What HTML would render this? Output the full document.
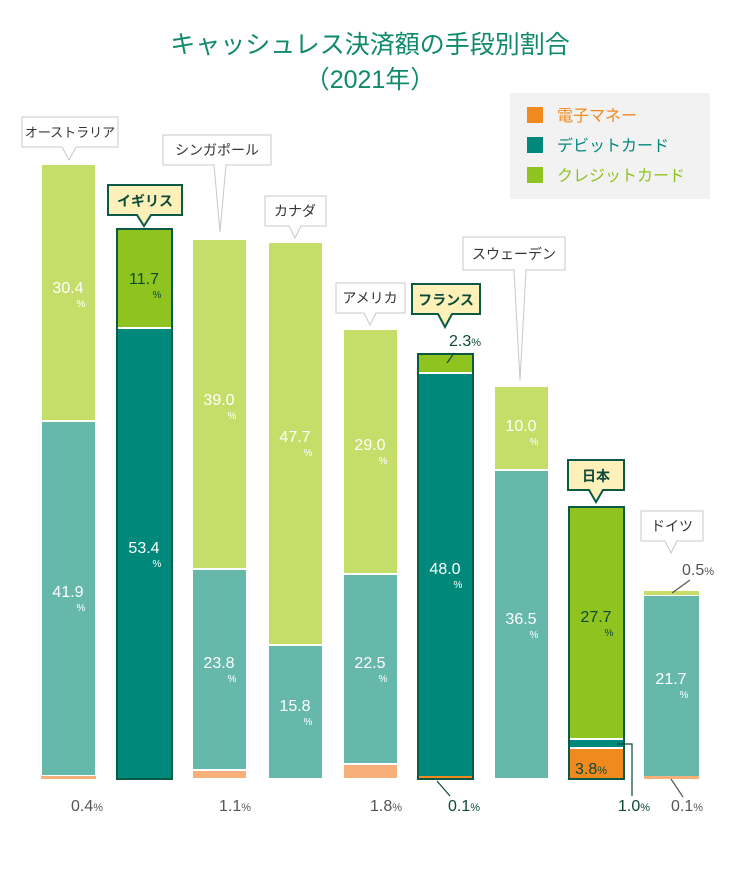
<!DOCTYPE html>
<html><head><meta charset="utf-8"><style>
html,body{margin:0;padding:0;background:#fff}
svg{display:block;font-family:"Liberation Sans","Noto Sans CJK JP",sans-serif}
</style></head><body>
<svg width="740" height="871" viewBox="0 0 740 871" xmlns="http://www.w3.org/2000/svg">
<text x="370" y="53" text-anchor="middle" font-size="25" fill="#0f8a6c">キャッシュレス決済額の手段別割合</text>
<text x="370" y="88" text-anchor="middle" font-size="25" fill="#0f8a6c">（2021年）</text>

<rect x="510" y="93" width="200" height="106" fill="#f2f2f2"/>
<rect x="527" y="107" width="16" height="16" fill="#f08a1e"/>
<text x="557" y="121" font-size="16" fill="#f08a1e">電子マネー</text>
<rect x="527" y="137" width="16" height="16" fill="#00897b"/>
<text x="557" y="151" font-size="16" fill="#00897b">デビットカード</text>
<rect x="527" y="167" width="16" height="16" fill="#8fc31f"/>
<text x="557" y="181" font-size="16" fill="#8fc31f">クレジットカード</text>

<g stroke="#fff" stroke-width="2">
<rect x="41" y="164" width="55" height="257" fill="#c5de6a"/>
<rect x="41" y="421" width="55" height="355" fill="#66b8ab"/>
<rect x="41" y="776" width="55" height="3" fill="#f7b07a" stroke="none"/>
<rect x="192" y="239" width="55" height="330" fill="#c5de6a"/>
<rect x="192" y="569" width="55" height="201" fill="#66b8ab"/>
<rect x="192" y="770" width="55" height="9" fill="#f7b07a"/>
<rect x="268" y="242" width="55" height="403" fill="#c5de6a"/>
<rect x="268" y="645" width="55" height="134" fill="#66b8ab"/>
<rect x="343" y="329" width="55" height="245" fill="#c5de6a"/>
<rect x="343" y="574" width="55" height="190" fill="#66b8ab"/>
<rect x="343" y="764" width="55" height="15" fill="#f7b07a"/>
<rect x="494" y="386" width="55" height="84" fill="#c5de6a"/>
<rect x="494" y="470" width="55" height="309" fill="#66b8ab"/>
<rect x="644" y="591" width="55" height="4" fill="#c5de6a" stroke="none"/>
<rect x="644" y="596" width="55" height="180" fill="#66b8ab" stroke="none"/>
<rect x="644" y="776" width="55" height="3" fill="#f7b07a" stroke="none"/>
</g>
<rect x="117" y="229" width="55" height="99" fill="#8fc31f"/>
<rect x="117" y="328" width="55" height="451" fill="#00897b"/>
<line x1="117" y1="328" x2="172" y2="328" stroke="#fff" stroke-width="2"/>
<rect x="117" y="229" width="55" height="550" fill="none" stroke="#0a5a45" stroke-width="2"/>
<rect x="418" y="354" width="55" height="19" fill="#8fc31f"/>
<rect x="418" y="373" width="55" height="403" fill="#00897b"/>
<rect x="418" y="776" width="55" height="3" fill="#f08a1e"/>
<line x1="418" y1="373" x2="473" y2="373" stroke="#fff" stroke-width="2"/>
<rect x="418" y="354" width="55" height="425" fill="none" stroke="#0a5a45" stroke-width="2"/>
<rect x="569" y="507" width="55" height="232" fill="#8fc31f"/>
<rect x="569" y="740" width="55" height="7" fill="#00897b"/>
<rect x="569" y="749" width="55" height="30" fill="#f08a1e"/>
<line x1="569" y1="739" x2="624" y2="739" stroke="#fff" stroke-width="2"/>
<line x1="569" y1="748" x2="624" y2="748" stroke="#fff" stroke-width="2"/>
<rect x="569" y="507" width="55" height="272" fill="none" stroke="#0a5a45" stroke-width="2"/>

<g font-size="16" fill="#fff" text-anchor="middle">
<text x="68" y="293">30.4</text><text x="81" y="307" font-size="10">%</text>
<text x="68" y="597">41.9</text><text x="81" y="611" font-size="10">%</text>
<text x="219" y="405">39.0</text><text x="232" y="419" font-size="10">%</text>
<text x="219" y="668">23.8</text><text x="232" y="682" font-size="10">%</text>
<text x="295" y="442">47.7</text><text x="308" y="456" font-size="10">%</text>
<text x="295" y="711">15.8</text><text x="308" y="725" font-size="10">%</text>
<text x="370" y="450">29.0</text><text x="383" y="464" font-size="10">%</text>
<text x="370" y="668">22.5</text><text x="383" y="682" font-size="10">%</text>
<text x="521" y="431">10.0</text><text x="534" y="445" font-size="10">%</text>
<text x="521" y="624">36.5</text><text x="534" y="638" font-size="10">%</text>
<text x="671" y="684">21.7</text><text x="684" y="698" font-size="10">%</text>
<text x="144" y="553">53.4</text><text x="157" y="567" font-size="10">%</text>
<text x="445" y="574">48.0</text><text x="458" y="588" font-size="10">%</text>
</g>
<g font-size="16" fill="#0a4a3a" text-anchor="middle">
<text x="144" y="284">11.7</text><text x="157" y="298" font-size="10">%</text>
<text x="596" y="622">27.7</text><text x="609" y="636" font-size="10">%</text>
<text x="591" y="774">3.8<tspan font-size="11">%</tspan></text>
</g>

<g font-size="16">
<text x="71" y="811" fill="#555">0.4<tspan font-size="11">%</tspan></text>
<text x="219" y="811" fill="#555">1.1<tspan font-size="11">%</tspan></text>
<text x="370" y="811" fill="#555">1.8<tspan font-size="11">%</tspan></text>
<line x1="437" y1="781" x2="450" y2="796" stroke="#0a4a3a" stroke-width="1.2"/>
<text x="448" y="811" fill="#0a4a3a">0.1<tspan font-size="11">%</tspan></text>
<polyline points="617,744 632,744 632,796" fill="none" stroke="#0a4a3a" stroke-width="1.2"/>
<text x="618" y="811" fill="#0a4a3a">1.0<tspan font-size="11">%</tspan></text>
<line x1="671" y1="779" x2="683" y2="797" stroke="#555" stroke-width="1.2"/>
<text x="671" y="811" fill="#555">0.1<tspan font-size="11">%</tspan></text>
<line x1="447" y1="363" x2="454" y2="353" stroke="#0a4a3a" stroke-width="1.2"/>
<text x="449" y="346" fill="#0a4a3a">2.3<tspan font-size="11">%</tspan></text>
<line x1="672" y1="593" x2="690" y2="580" stroke="#555" stroke-width="1.2"/>
<text x="682" y="575" fill="#555">0.5<tspan font-size="11">%</tspan></text>
</g>

<g font-size="14" text-anchor="middle" stroke-width="1">
<path d="M22,117 H118 V147 H76 L69,160 L62,147 H22 Z" fill="#fff" stroke="#c8c8c8"/>
<text x="70" y="137" fill="#333" font-size="13">オーストラリア</text>
<path d="M163,135 H271 V165 H226 L220,232 L214,165 H163 Z" fill="#fff" stroke="#c8c8c8"/>
<text x="217" y="155" fill="#333">シンガポール</text>
<path d="M265,196 H326 V226 H301 L295,238 L289,226 H265 Z" fill="#fff" stroke="#c8c8c8"/>
<text x="295" y="216" fill="#333">カナダ</text>
<path d="M336,283 H405 V313 H376 L370,325 L364,313 H336 Z" fill="#fff" stroke="#c8c8c8"/>
<text x="370" y="303" fill="#333">アメリカ</text>
<path d="M463,237 H565 V270 H526 L520,380 L514,270 H463 Z" fill="#fff" stroke="#c8c8c8"/>
<text x="514" y="259" fill="#333">スウェーデン</text>
<path d="M641,511 H703 V541 H677 L671,553 L665,541 H641 Z" fill="#fff" stroke="#c8c8c8"/>
<text x="672" y="531" fill="#333">ドイツ</text>
<g stroke-width="2">
<path d="M108,185 H182 V215 H151 L144,226 L137,215 H108 Z" fill="#fdf0b8" stroke="#0a5a45"/>
<text x="145" y="206" fill="#0a4a3a" font-weight="bold" stroke="none">イギリス</text>
<path d="M412,284 H480 V314 H452 L445,327 L438,314 H412 Z" fill="#fdf0b8" stroke="#0a5a45"/>
<text x="446" y="305" fill="#0a4a3a" font-weight="bold" stroke="none">フランス</text>
<path d="M568,460 H624 V490 H603 L596,502 L589,490 H568 Z" fill="#fdf0b8" stroke="#0a5a45"/>
<text x="596" y="481" fill="#0a4a3a" font-weight="bold" stroke="none">日本</text>
</g>
</g>
</svg>
</body></html>
